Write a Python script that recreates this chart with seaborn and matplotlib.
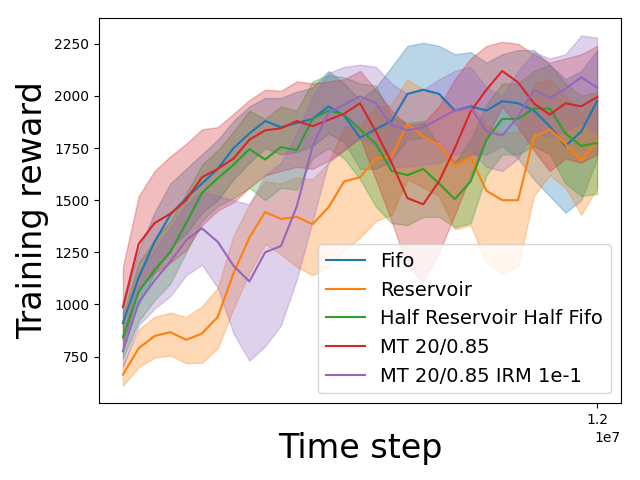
import numpy as np
import pandas as pd
import matplotlib
matplotlib.use('Agg')
import matplotlib.pyplot as plt
import seaborn as sns

# time steps where the curves were sampled (every 0.4M steps up to 12M)
steps = np.arange(0, 12_000_001, 400_000)

labels = ['Fifo', 'Reservoir', 'Half Reservoir Half Fifo', 'MT 20/0.85', 'MT 20/0.85 IRM 1e-1']

# mean training reward per run
fifo_mean = [910, 1130, 1300, 1430, 1510, 1580, 1650, 1750, 1820, 1880, 1850, 1870, 1890, 1950, 1905, 1800,
             1840, 1880, 2010, 2030, 2010, 1930, 1950, 1930, 1975, 1965, 1930, 1855, 1760, 1830, 1975]
reservoir_mean = [663, 790, 848, 867, 830, 860, 940, 1150, 1320, 1443, 1410, 1420, 1385, 1465, 1590, 1610,
                  1700, 1710, 1865, 1805, 1765, 1665, 1705, 1545, 1500, 1500, 1805, 1840, 1770, 1690, 1785]
half_mean = [843, 1060, 1165, 1250, 1390, 1535, 1605, 1670, 1745, 1695, 1755, 1740, 1890, 1930, 1910, 1840,
             1770, 1640, 1620, 1650, 1580, 1505, 1590, 1790, 1890, 1890, 1940, 1940, 1820, 1760, 1775]
mt_mean = [987, 1290, 1390, 1435, 1500, 1610, 1650, 1700, 1790, 1835, 1845, 1880, 1855, 1885, 1915, 1965,
           1830, 1680, 1510, 1480, 1590, 1750, 1925, 2030, 2120, 2065, 1965, 1910, 1965, 1950, 1995]
irm_mean = [775, 1010, 1115, 1205, 1308, 1365, 1300, 1185, 1110, 1250, 1280, 1470, 1760, 1920, 1958, 1998,
            1965, 1860, 1835, 1850, 1890, 1930, 1945, 1830, 1810, 1900, 2030, 1990, 2035, 2090, 2040]

# lower / upper edge of the shaded band
fifo_lo = [830, 1000, 1150, 1270, 1340, 1440, 1500, 1600, 1680, 1750, 1720, 1730, 1760, 1820, 1780, 1650,
           1650, 1690, 1790, 1800, 1780, 1680, 1720, 1720, 1760, 1700, 1600, 1520, 1440, 1500, 1700]
fifo_hi = [990, 1260, 1440, 1580, 1650, 1720, 1790, 1880, 1950, 1990, 1990, 2020, 2040, 2120, 2060, 1980,
           2040, 2140, 2240, 2255, 2240, 2200, 2210, 2160, 2200, 2220, 2220, 2150, 2080, 2120, 2220]
reservoir_lo = [610, 700, 745, 755, 718, 720, 790, 980, 1150, 1290, 1240, 1180, 1140, 1180, 1260, 1320,
                1400, 1430, 1600, 1560, 1520, 1360, 1380, 1200, 1150, 1180, 1520, 1620, 1560, 1430, 1560]
reservoir_hi = [710, 880, 940, 960, 940, 990, 1080, 1330, 1480, 1590, 1580, 1610, 1600, 1680, 1850, 1860,
                1950, 1960, 2080, 2030, 2000, 1920, 1960, 1860, 1820, 1830, 2060, 2080, 2000, 1920, 2000]
half_lo = [740, 920, 1020, 1100, 1250, 1400, 1470, 1510, 1560, 1500, 1560, 1550, 1700, 1750, 1700, 1600,
           1470, 1390, 1380, 1420, 1420, 1370, 1390, 1620, 1720, 1720, 1760, 1720, 1580, 1520, 1530]
half_hi = [950, 1200, 1310, 1400, 1530, 1670, 1740, 1830, 1930, 1890, 1950, 1930, 2070, 2100, 2090, 2060,
           2050, 1900, 1870, 1880, 1760, 1680, 1790, 1960, 2060, 2060, 2120, 2150, 2060, 2000, 2020]
mt_lo = [800, 1080, 1150, 1200, 1260, 1380, 1450, 1490, 1560, 1620, 1640, 1660, 1650, 1690, 1740, 1800,
         1600, 1400, 1180, 1110, 1250, 1430, 1620, 1800, 1950, 1850, 1740, 1640, 1700, 1680, 1720]
mt_hi = [1180, 1520, 1640, 1710, 1770, 1840, 1850, 1915, 1980, 2030, 2025, 2070, 2060, 2070, 2080, 2120,
         2030, 1930, 1860, 1870, 1950, 2080, 2180, 2240, 2260, 2250, 2200, 2160, 2180, 2200, 2240]
irm_lo = [700, 900, 980, 1040, 1140, 1190, 1080, 860, 730, 800, 900, 1120, 1400, 1680, 1740, 1800,
          1760, 1660, 1660, 1670, 1680, 1720, 1740, 1660, 1640, 1700, 1830, 1800, 1830, 1870, 1820]
irm_hi = [850, 1150, 1260, 1370, 1480, 1540, 1520, 1500, 1480, 1620, 1680, 1820, 2000, 2110, 2140, 2150,
          2140, 2060, 2010, 2030, 2080, 2120, 2140, 2040, 2000, 2120, 2210, 2180, 2200, 2290, 2280]

means = [fifo_mean, reservoir_mean, half_mean, mt_mean, irm_mean]
lows = [fifo_lo, reservoir_lo, half_lo, mt_lo, irm_lo]
highs = [fifo_hi, reservoir_hi, half_hi, mt_hi, irm_hi]
colors = sns.color_palette('tab10', 5)

fig, ax = plt.subplots(figsize=(6.4, 4.8), dpi=100)

for name, m, lo, hi, c in zip(labels, means, lows, highs, colors):
    df = pd.DataFrame({'step': steps, 'reward': m})
    sns.lineplot(data=df, x='step', y='reward', color=c, label=name, linewidth=1.5, ax=ax)
    ax.fill_between(steps, lo, hi, color=c, alpha=0.3)

ax.set_xticks([12_000_000])
ax.set_yticks([750, 1000, 1250, 1500, 1750, 2000, 2250])
ax.set_xlabel('Time step', fontsize=24)
ax.set_ylabel('Training reward', fontsize=24)
ax.legend(loc='lower right', fontsize=14)

fig.subplots_adjust(left=0.155, right=0.970, top=0.9625, bottom=0.160)
plt.savefig('out.png')
